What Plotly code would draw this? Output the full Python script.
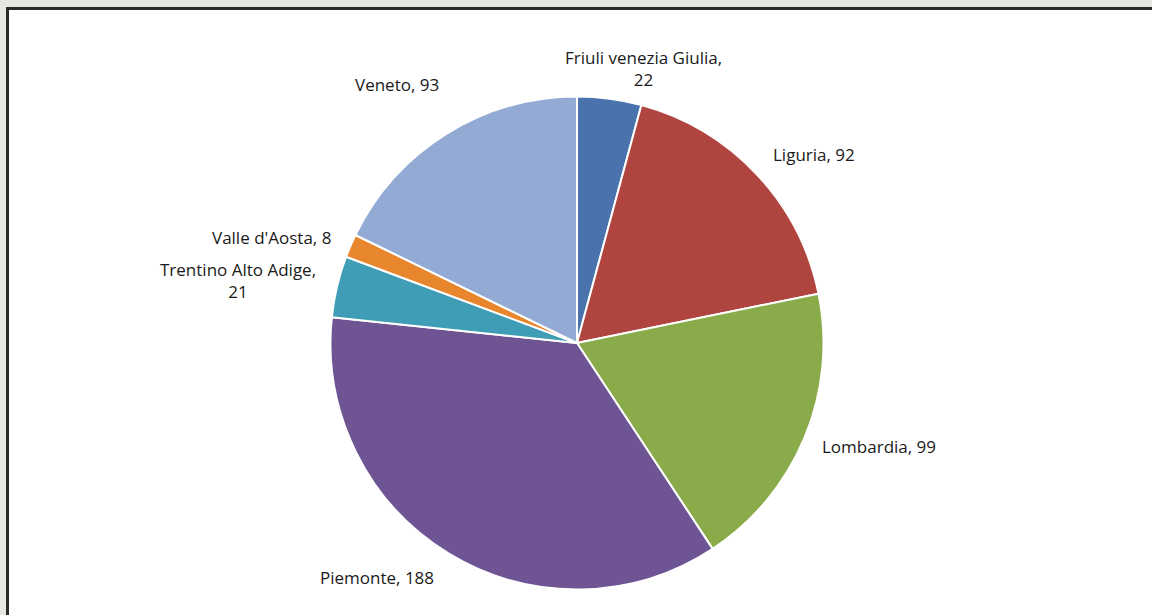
import plotly.graph_objects as go

regions = ["Friuli venezia Giulia", "Liguria", "Lombardia", "Piemonte",
           "Trentino Alto Adige", "Valle d'Aosta", "Veneto"]
values = [22, 92, 99, 188, 21, 8, 93]
colors = ["#4a72ad", "#b0453f", "#8aab4a", "#6f5493", "#3f9db6", "#e8862e", "#93abd4"]

# label layout (pixel centres) and wrapping
label_pos = [(643, 68), (814, 155), (879, 446), (377, 577), (238, 280), (271, 238), (397, 85)]
wrap = [True, False, False, False, True, False, False]

W, H = 1152, 615
cx, cy, r = 577, 343, 246.5

fig = go.Figure(go.Pie(
    labels=regions, values=values, sort=False, direction="clockwise", rotation=0,
    marker=dict(colors=colors, line=dict(color="white", width=2)),
    textinfo="none", hoverinfo="label+value", showlegend=False,
    domain=dict(x=[(cx - 300) / W, (cx + 300) / W], y=[(H - cy - r) / H, (H - cy + r) / H]),
))

for name, v, (px, py), wr in zip(regions, values, label_pos, wrap):
    txt = f"{name},<br>{v}" if wr else f"{name}, {v}"
    fig.add_annotation(x=px / W, y=1 - py / H, xref="paper", yref="paper", text=txt,
                       showarrow=False, xanchor="center", yanchor="middle",
                       font=dict(family="Open Sans, sans-serif", size=17, color="#1a1a1a"),
                       align="center")

fig.add_shape(type="rect", xref="paper", yref="paper", x0=7.5 / W, x1=1.05, y0=-0.05, y1=1 - 8.5 / H,
              fillcolor="white", line=dict(color="#2a2a2a", width=3), layer="below")

fig.update_layout(width=W, height=H, margin=dict(l=0, r=0, t=0, b=0),
                  paper_bgcolor="#e8e6e3", plot_bgcolor="white")
fig.write_html("out.html", config={"displayModeBar": False},
               post_script="document.body.style.margin='0';document.body.style.overflow='hidden';")
